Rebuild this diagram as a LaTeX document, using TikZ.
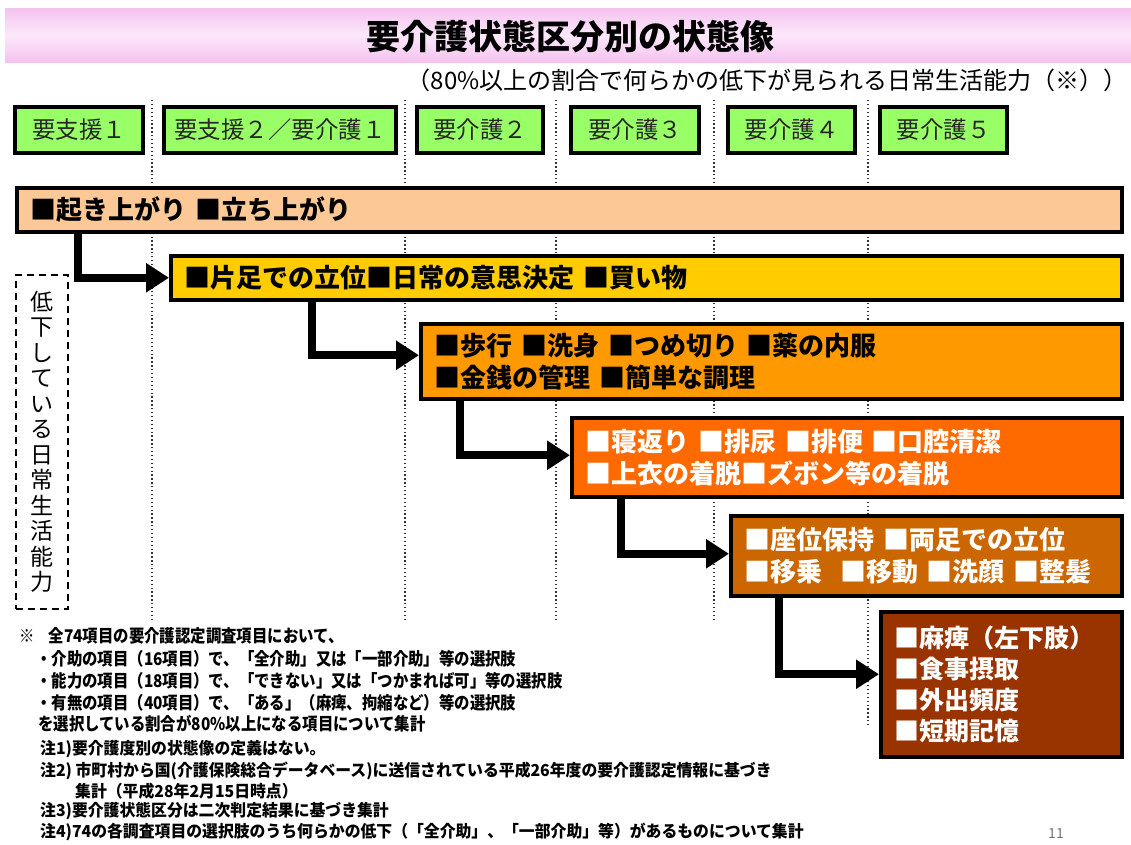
\documentclass[tikz,border=0pt]{standalone}
\usepackage{fontspec}
\usepackage{graphicx}
\setmainfont{Noto Sans CJK JP}
\usetikzlibrary{arrows.meta,calc}
\definecolor{hgreen}{HTML}{99FF66}
\definecolor{cbarA}{HTML}{FCC896}
\definecolor{cbarB}{HTML}{FFCC00}
\definecolor{cbarC}{HTML}{FF9900}
\definecolor{cbarD}{HTML}{FF6A00}
\definecolor{cbarE}{HTML}{CC6600}
\definecolor{cbarF}{HTML}{993300}
\definecolor{bandpink}{HTML}{F5C2F0}
\definecolor{bandlight}{HTML}{FCE8FA}
\newcommand{\nsq}[1]{\scalebox{0.88}[1]{#1}}
\newcommand{\msq}[1]{\scalebox{0.96}[1]{#1}}
\begin{document}
\begin{tikzpicture}[x=1pt,y=-1pt,
  hdr/.style={draw=black, line width=3.5pt, fill=hgreen, minimum height=46pt, inner sep=0pt,
    font=\fontsize{23.5}{27}\selectfont, text=black!85},
  bar/.style={draw=black, line width=3.5pt, anchor=north west, inner xsep=14pt, inner ysep=0pt,
    align=left, font=\fontsize{26}{32}\selectfont\bfseries},
  arr/.style={line width=8pt, -{Triangle[length=23pt,width=28pt]}},
  dotline/.style={line width=1.3pt, black!80, dash pattern=on 1.3pt off 2.6pt},
  note/.style={anchor=west, inner sep=0pt, font=\fontsize{17.5}{20}\selectfont\bfseries},
  subnote/.style={anchor=west, inner sep=0pt, font=\fontsize{16.5}{19}\selectfont\bfseries}]
\useasboundingbox (0,0) rectangle (1131,844);
\fill[white] (0,0) rectangle (1131,844);

% title band
\shade[top color=bandpink, bottom color=bandpink, middle color=bandlight] (5,8) rectangle (1131,62);
\node[font=\fontsize{34}{38}\selectfont\bfseries] (title) at (570,37) {要介護状態区分別の状態像};
\node[anchor=east, font=\fontsize{24}{28}\selectfont] (sub) at (1131,80)
  {（80\%以上の割合で何らかの低下が見られる日常生活能力（※））};

% dotted separators
\draw[dotline] (152,100) -- (152,620);
\draw[dotline] (405,100) -- (405,620);
\draw[dotline] (556,100) -- (556,620);
\draw[dotline] (714,100) -- (714,620);
\draw[dotline] (868,100) -- (868,727);

% header boxes
\node[hdr, minimum width=128pt] (h1) at (79,130) {要支援１};
\node[hdr, minimum width=232pt] (h2) at (280,130) {要支援２／要介護１};
\node[hdr, minimum width=126pt] (h3) at (480,130) {要介護２};
\node[hdr, minimum width=128pt] (h4) at (635,130) {要介護３};
\node[hdr, minimum width=127pt] (h5) at (791.5,130) {要介護４};
\node[hdr, minimum width=127pt] (h6) at (943.5,130) {要介護５};

% bars
\node[bar, fill=cbarA, text width=1077pt, minimum height=44pt] (b1) at (15,186)
  {■起き上がり ■立ち上がり};
\node[bar, fill=cbarB, text width=923pt, minimum height=44pt] (b2) at (169,254)
  {■片足での立位■日常の意思決定 ■買い物};
\node[bar, fill=cbarC, text width=673pt, minimum height=75pt] (b3) at (419,322)
  {■歩行 ■洗身 ■つめ切り ■薬の内服\\■金銭の管理 ■簡単な調理};
\node[bar, fill=cbarD, text=white, text width=522pt, minimum height=79pt] (b4) at (570,416)
  {■寝返り ■排尿 ■排便 ■口腔清潔\\■上衣の着脱■ズボン等の着脱};
\node[bar, fill=cbarE, text=white, text width=363pt, minimum height=80pt] (b5) at (729,514)
  {■座位保持 ■両足での立位\\■移乗 \ ■移動 ■洗顔 ■整髪};
\node[bar, fill=cbarF, text=white, text width=213pt, minimum height=145pt,
  font=\fontsize{25}{31}\selectfont\bfseries] (b6) at (879,610)
  {■麻痺（左下肢）\\■食事摂取\\■外出頻度\\■短期記憶};

% arrows
\draw[arr] ($(b1.south west)+(63,0)$) |- (b2.west);
\draw[arr] ($(b2.south west)+(143,0)$) |- ([yshift=6pt]b3.west);
\draw[arr] ($(b3.south west)+(41,0)$) |- ([yshift=2pt]b4.west);
\draw[arr] ($(b4.south west)+(51,0)$) |- ([yshift=2pt]b5.west);
\draw[arr] ($(b5.south west)+(50,0)$) |- ([yshift=10pt]b6.west);

% left dashed label
\node[draw=black, line width=2pt, dash pattern=on 7pt off 5pt, minimum width=52pt,
  minimum height=334pt, inner sep=0pt, align=center,
  font=\fontsize{23}{25.5}\selectfont] (lbl) at (42,442)
  {低\\下\\し\\て\\い\\る\\日\\常\\生\\活\\能\\力};

% notes
\node[note] (n1) at (19,636) {\nsq{※\hspace{16pt}全74項目の要介護認定調査項目において、}};
\node[note] (n2) at (36,659) {\nsq{・介助の項目（16項目）で、「全介助」又は「一部介助」等の選択肢}};
\node[note] (n3) at (36,681) {\nsq{・能力の項目（18項目）で、「できない」又は「つかまれば可」等の選択肢}};
\node[note] (n4) at (36,703) {\nsq{・有無の項目（40項目）で、「ある」（麻痺、拘縮など）等の選択肢}};
\node[note] (n5) at (38,724) {\nsq{を選択している割合が80\%以上になる項目について集計}};
\node[subnote] (m1) at (40,749) {\msq{注1)要介護度別の状態像の定義はない。}};
\node[subnote] (m2) at (40,771) {\msq{注2) 市町村から国(介護保険総合データベース)に送信されている平成26年度の要介護認定情報に基づき}};
\node[subnote] (m2b) at (75,791) {\msq{集計（平成28年2月15日時点）}};
\node[subnote] (m3) at (40,811) {\msq{注3)要介護状態区分は二次判定結果に基づき集計}};
\node[subnote] (m4) at (40,832) {\msq{注4)74の各調査項目の選択肢のうち何らかの低下（「全介助」、「一部介助」等）があるものについて集計}};
\node[anchor=center, text=black!55, font=\fontsize{14}{16}\selectfont] (pg) at (1056,833) {11};
\end{tikzpicture}
\end{document}
